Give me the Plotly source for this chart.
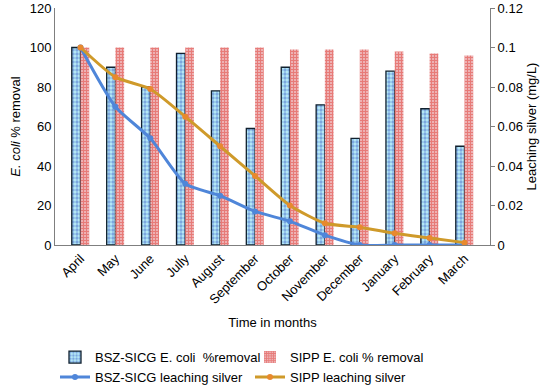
import plotly.graph_objects as go

months = ["April", "May", "June", "Jully", "August", "September", "October",
          "November", "December", "January", "February", "March"]
bsz_removal = [100, 90, 80, 97, 78, 59, 90, 71, 54, 88, 69, 50]
sipp_removal = [100, 100, 100, 100, 100, 100, 99, 99, 99, 98, 97, 96]
bsz_leach = [0.1, 0.07, 0.054, 0.031, 0.025, 0.017, 0.012, 0.005, 0.0, 0.0, 0.0, 0.0]
sipp_leach = [0.1, 0.085, 0.079, 0.065, 0.05, 0.035, 0.02, 0.011, 0.009, 0.006, 0.0035, 0.0012]

font = "Liberation Sans, Arial, sans-serif"

fig = go.Figure()
fig.add_trace(go.Bar(
    x=months, y=bsz_removal, name="BSZ-SICG E. coli  %removal",
    marker=dict(color="#bfeaf5", line=dict(color="#10202e", width=1.3),
                pattern=dict(shape=".", fgcolor="#3d62c8", bgcolor="#b8ecf7", size=4, solidity=0.55)),
))
fig.add_trace(go.Bar(
    x=months, y=sipp_removal, name="SIPP E. coli % removal",
    marker=dict(color="#f7dede", line=dict(color="#f9dcea", width=0),
                pattern=dict(shape="+", fgcolor="#dc2418", bgcolor="#f2d2d8", size=3, solidity=0.7)),
))
fig.add_trace(go.Scatter(
    x=months, y=bsz_leach, name="BSZ-SICG leaching silver", yaxis="y2",
    mode="lines+markers", line=dict(color="#4f86d9", width=3, shape="spline", smoothing=0.6),
    marker=dict(color="#4f86d9", size=6),
))
fig.add_trace(go.Scatter(
    x=months, y=sipp_leach, name="SIPP leaching silver", yaxis="y2",
    mode="lines+markers", line=dict(color="#cf9a2a", width=3, shape="spline", smoothing=0.6),
    marker=dict(color="#e8892e", size=6),
))

fig.update_layout(
    width=550, height=389,
    margin=dict(l=55, r=60, t=8, b=144, autoexpand=False),
    paper_bgcolor="white", plot_bgcolor="white",
    font=dict(family=font, size=13, color="#000"),
    barmode="group", bargap=0.5, bargroupgap=0,
    showlegend=True,
    legend=dict(orientation="h", x=0.0, xanchor="left", y=-0.41, yanchor="top",
                entrywidth=150, entrywidthmode="pixels", font=dict(size=13),
                itemwidth=30, tracegroupgap=0),
    xaxis=dict(title=dict(text="Time in months", font=dict(size=13), standoff=12),
               tickangle=-45, showline=True, linecolor="#7f7f7f", linewidth=1,
               ticks="", tickfont=dict(size=13), automargin=False),
    yaxis=dict(range=[0, 120], dtick=20,
               title=dict(text="<i>E. coli</i> % removal", font=dict(size=13), standoff=6),
               showline=True, linecolor="#7f7f7f", linewidth=1, showgrid=False,
               ticks="", tickfont=dict(size=13), zeroline=False, automargin=False),
    yaxis2=dict(range=[0, 0.12], dtick=0.02, overlaying="y", side="right",
                title=dict(text="Leaching silver (mg/L)", font=dict(size=13), standoff=4),
                showline=True, linecolor="#7f7f7f", linewidth=1, showgrid=False,
                ticks="outside", ticklen=4, tickcolor="#7f7f7f",
                tickfont=dict(size=13), zeroline=False, tickformat="~g", automargin=False),
)

# remove the default 8px page margin so the figure sits at the window's top-left
fig.write_html("out.html", config={"displayModeBar": False},
               post_script="document.body.style.margin='0';")
